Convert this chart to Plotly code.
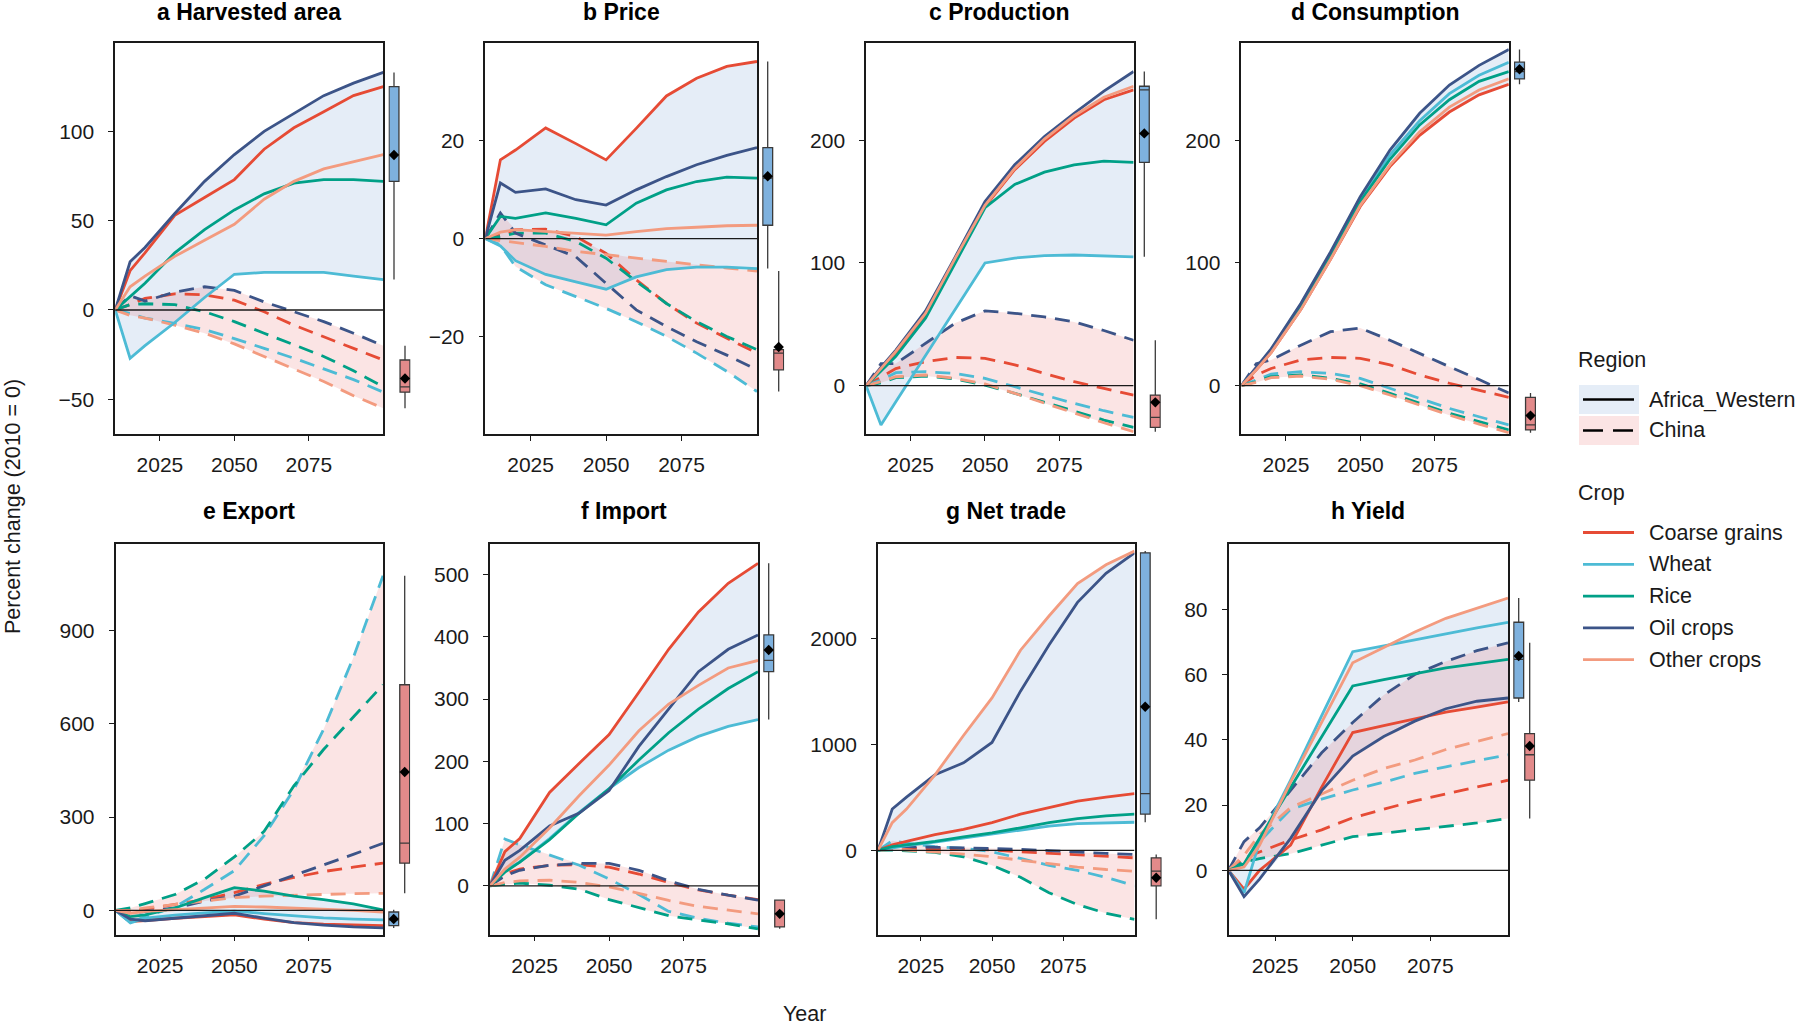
"""Percent change of crop indicators, Africa_Western vs China, 2010-2100."""
import numpy as np
import plotly.graph_objects as go

# ---------------------------------------------------------------- data
YEARS = [2010, 2015, 2020, 2030, 2040, 2050, 2060, 2070, 2080, 2090, 2100]
CROPS = ["Coarse grains", "Wheat", "Rice", "Oil crops", "Other crops"]
REGIONS = ["Africa_Western", "China"]
TITLES = [
    "a Harvested area", "b Price", "c Production", "d Consumption",
    "e Export", "f Import", "g Net trade", "h Yield",
]
X_TICKS = [2025, 2050, 2075]
Y_TICKS = [
    [-50, 0, 50, 100],
    [-20, 0, 20],
    [0, 100, 200],
    [0, 100, 200],
    [0, 300, 600, 900],
    [0, 100, 200, 300, 400, 500],
    [0, 1000, 2000],
    [0, 20, 40, 60, 80],
]

# rows follow CROPS: Coarse grains, Wheat, Rice, Oil crops, Other crops
AREA_AFR = [
    [0, 22, 32, 53, 63, 73, 90, 102, 111, 120, 125],
    [0, -27, -20, -7, 7, 20, 21, 21, 21, 19, 17],
    [0, 7.5, 15, 32, 45, 56, 65, 71, 73, 73, 72],
    [0, 27, 35, 54, 72, 87, 100, 110, 120, 127, 133],
    [0, 13, 19, 30, 39, 48, 62, 72, 79, 83, 87],
]
AREA_CHN = [
    [0, 3, 6.5, 9, 8.5, 5.5, -1, -8.5, -15, -21.5, -28],
    [0, -2, -4.5, -7.5, -11, -16, -21.5, -27, -33, -39, -46],
    [0, 3, 3.5, 3, -1, -6.5, -13, -19.5, -26, -34, -43],
    [0, 8, 5, 10, 13, 11, 4.5, -1, -6.5, -13, -20],
    [0, -3, -4.5, -8.5, -13, -19, -26, -33, -40, -48, -55],
]
PRICE_AFR = [
    [0, 16, 18, 22.5, 19.3, 16, 22.4, 29, 32.6, 35, 36],
    [0, -1.5, -4.5, -7.3, -8.8, -10.3, -7.8, -6.3, -5.8, -5.8, -6.1],
    [0, 4.5, 4.1, 5.2, 4.1, 2.8, 7.2, 9.9, 11.6, 12.5, 12.3],
    [0, 11.3, 9.4, 10.1, 7.9, 6.8, 9.9, 12.6, 15, 16.9, 18.5],
    [0, 1.3, 1.8, 1.4, 1.1, 0.7, 1.4, 2, 2.3, 2.6, 2.7],
]
PRICE_CHN = [
    [0, 0.7, 1.8, 1.9, 0.4, -3, -8.4, -13.2, -17.2, -20.3, -23.3],
    [0, -1.3, -5.7, -9.4, -11.8, -14.2, -16.9, -19.9, -23.3, -27, -31.1],
    [0, 0.4, 1.1, 1.1, -0.6, -4, -8.7, -13.2, -16.9, -19.9, -22.6],
    [0, 5.2, 1.1, -1.3, -3.7, -9.1, -14.5, -17.9, -21, -23.7, -26.7],
    [0, -0.4, -0.9, -1.6, -2.6, -3.3, -4, -4.7, -5.4, -6, -6.6],
]
PROD_AFR = [
    [0, 14, 27, 58, 103, 146, 176, 199, 218, 233, 241],
    [0, -32, -13, 25, 62, 100, 104, 106, 106.5, 106, 105],
    [0, 12, 24, 55, 100, 145, 164, 174, 180, 183, 182],
    [0, 15, 29, 61, 105, 150, 180, 203, 222, 240, 256],
    [0, 14, 28, 59, 104, 147, 177, 201, 220, 235, 244],
]
PROD_CHN = [
    [0, 7, 14, 19.6, 23, 22.3, 17, 10, 3.3, -2.2, -7.6],
    [0, 4.6, 10.6, 11.4, 10, 6, -0.8, -7.6, -14.4, -20.4, -25.8],
    [0, 2.4, 6.5, 7.9, 5.4, 0.5, -6.2, -13.6, -21.2, -28, -34],
    [0, 18, 18, 34.5, 51, 61, 59, 56, 52, 45, 37],
    [0, 3.3, 7.3, 8.7, 6, 1.4, -6.2, -14.4, -22.5, -30.2, -37.5],
]
CONS_AFR = [
    [0, 13, 27, 62, 103, 146, 178.5, 204, 223, 237, 245.6],
    [0, 14, 29, 66, 108, 153, 188, 216, 238, 253, 263.6],
    [0, 14, 29, 65, 106, 150, 184.5, 212.5, 233, 248, 256],
    [0, 15, 30, 67, 109, 154, 192, 222, 245, 261, 274],
    [0, 13, 27, 62, 103, 147, 180, 207, 227, 241, 250],
]
CONS_CHN = [
    [0, 8.7, 14, 21, 23, 22.3, 17, 8.7, 2, -3.5, -9.5],
    [0, 4.6, 9.5, 11.4, 10, 6, -2.2, -10.3, -18.5, -25.3, -32],
    [0, 3.3, 7.3, 8.7, 6, 1.4, -6.2, -14.4, -22.5, -29.3, -36],
    [0, 18, 21, 33, 44, 47, 37, 26, 15.5, 5, -6],
    [0, 2.7, 6.5, 7.9, 5.2, 0, -7.6, -15.8, -24, -31.3, -38.3],
]
EXPORT_AFR = [
    [0, -36, -33, -25, -20, -14, -28, -39, -44, -47, -49],
    [0, -40, -25, -15, -8, -2, -10, -18, -24, -28, -30],
    [0, -20, -14, 8, 41, 73, 62, 46, 35, 21, 2],
    [0, -28, -33, -25, -18, -9, -25, -39, -47, -53, -56],
    [0, -9, -3, 2, 8, 13, 11, 8, 4, 0, -5],
]
EXPORT_CHN = [
    [0, -3, 4, 19, 35, 57, 84, 106, 125, 139, 152],
    [0, -39, -20, 11, 68, 128, 240, 388, 582, 812, 1075],
    [0, 8, 22, 51, 101, 172, 254, 400, 517, 621, 725],
    [0, -9, -3, 8, 30, 46, 79, 112, 145, 180, 216],
    [0, 0, 8, 19, 30, 41, 46, 49, 53, 54, 55],
]
IMPORT_AFR = [
    [0, 55, 76, 150, 197, 243, 311, 380, 440, 486, 518],
    [0, 25, 38, 76, 118, 156, 190, 218, 240, 256, 267],
    [0, 22, 38, 74, 117, 156, 202, 246, 284, 317, 344],
    [0, 41, 57, 96, 117, 153, 224, 284, 344, 380, 403],
    [0, 27, 46, 93, 145, 194, 249, 292, 322, 350, 362],
]
IMPORT_CHN = [
    [0, 19, 27, 33, 34, 30, 19, 5.5, -6.6, -15, -22],
    [0, 75, 66, 50, 33, 11, -14, -41, -52, -60, -66],
    [0, 2.7, 4.4, 1, -5.5, -22, -35.5, -48, -55, -61, -69],
    [0, 16, 25, 33, 36, 36, 25, 8, -5.5, -15, -23],
    [0, 5.5, 8, 9, 5.5, -1.6, -12, -23.5, -33, -39, -45],
]
NETTRADE_AFR = [
    [0, 52, 84, 148, 197, 261, 342, 406, 465, 503, 535],
    [0, 26, 45, 77, 116, 155, 197, 229, 252, 261, 265],
    [0, 35, 52, 84, 126, 165, 213, 261, 300, 326, 342],
    [0, 390, 503, 713, 826, 1019, 1503, 1939, 2342, 2616, 2810],
    [0, 261, 390, 713, 1084, 1439, 1890, 2213, 2519, 2697, 2826],
]
NETTRADE_CHN = [
    [0, 19, 19, 13, 10, 3, -13, -29, -45, -55, -71],
    [0, 90, 68, 35, 19, -13, -77, -142, -190, -255, -335],
    [0, 3, -6, -19, -61, -142, -255, -400, -513, -594, -652],
    [0, 35, 35, 29, 26, 19, 10, -3, -19, -29, -39],
    [0, 10, 3, -13, -35, -61, -94, -126, -158, -181, -197],
]
YIELD_AFR = [
    [0, -5.8, 0, 7.7, 25.5, 42.2, 44.3, 46.4, 48.5, 50, 51.6],
    [0, -6.9, 8.8, 27.6, 47.4, 67, 68.8, 70.7, 72.5, 74.3, 76],
    [0, 2, 9.8, 25.5, 41, 56.5, 58.4, 60.3, 62, 63.3, 64.6],
    [0, -8.1, -2.7, 9.8, 24.4, 35, 41, 45.7, 49.5, 51.8, 52.8],
    [0, 1, 7.7, 27, 45.3, 63.6, 68.3, 73, 77.2, 80.3, 83.4],
]
YIELD_CHN = [
    [0, 3.6, 5.6, 9.3, 12.4, 16.1, 18.7, 21.3, 23.4, 25.5, 27.6],
    [0, 2.5, 8.8, 18.7, 21.8, 24.6, 27, 29.7, 31.7, 33.6, 35.4],
    [0, 2.5, 3.6, 5.1, 7.7, 10.3, 11.4, 12.4, 13.5, 14.5, 15.9],
    [0, 8.8, 13, 24.4, 36, 45.3, 53.7, 60, 64, 67.3, 69.7],
    [0, 4.6, 10.9, 19.2, 23.4, 27.6, 31.2, 33.8, 37, 39.4, 41.9],
]

PANEL_DATA = [
    (AREA_AFR, AREA_CHN),
    (PRICE_AFR, PRICE_CHN),
    (PROD_AFR, PROD_CHN),
    (CONS_AFR, CONS_CHN),
    (EXPORT_AFR, EXPORT_CHN),
    (IMPORT_AFR, IMPORT_CHN),
    (NETTRADE_AFR, NETTRADE_CHN),
    (YIELD_AFR, YIELD_CHN),
]

# ---------------------------------------------------------------- style
W, H = 1800, 1025
FONT = "Liberation Sans, Arial, sans-serif"
INK = "#1a1a1a"
CROP_COLORS = ["#E64B35", "#4DBBD5", "#00A087", "#3C5488", "#F39B7F"]
REGION_DASH = ["solid", "15px,9px"]
BAND_FILL = ["rgba(70,130,200,0.14)", "rgba(230,80,80,0.155)"]
BOX_FILL = ["#7EB1DE", "#E28A8A"]

# plot areas in pixels: (left, right), and row (top, bottom)
PANEL_X = [
    (115.2, 383.3), (485.3, 757.0), (866.1, 1133.6), (1241.4, 1508.8),
    (115.5, 383.0), (490.0, 758.0), (878.0, 1134.5), (1228.5, 1508.0),
]
ROW_Y = [(43.3, 434.3), (543.6, 934.6)]
TITLE_Y = [11.5, 511]
Y_RANGES = [
    (-69.6, 149.3), (-39.8, 39.7), (-39.6, 279), (-39.6, 279),
    (-77.6, 1178.5), (-78.3, 549.7), (-796, 2897), (-19.7, 100.1),
]


def fx(px):
    return px / W


def fy(px):
    return 1 - px / H


fig = go.Figure()
layout = {}
shapes = []
annotations = []
years = np.array(YEARS)

for i, (title, data) in enumerate(zip(TITLES, PANEL_DATA)):
    xa, ya, xb = f"x{i + 1}", f"y{i + 1}", f"x{i + 9}"
    left, right = PANEL_X[i]
    top, bottom = ROW_Y[i // 4]

    # min/max ribbons for each region
    for r, series in enumerate(data):
        arr = np.array(series, dtype=float)
        lo, hi = arr.min(axis=0), arr.max(axis=0)
        fig.add_trace(go.Scatter(
            x=np.concatenate([years, years[::-1]]),
            y=np.concatenate([hi, lo[::-1]]),
            fill="toself", fillcolor=BAND_FILL[r], line=dict(width=0),
            mode="lines", hoverinfo="skip", showlegend=False,
            xaxis=xa, yaxis=ya,
        ))

    for r in (1, 0):
        for c, crop in enumerate(CROPS):
            fig.add_trace(go.Scatter(
                x=YEARS, y=data[r][c], mode="lines",
                line=dict(color=CROP_COLORS[c], width=2.8, dash=REGION_DASH[r]),
                name=f"{crop} ({REGIONS[r]})", showlegend=False,
                xaxis=xa, yaxis=ya,
            ))

    # boxplots of the 2100 values
    for r, series in enumerate(data):
        ends = [row[-1] for row in series]
        fig.add_trace(go.Box(
            y=ends, x0=r, width=0.9, boxpoints=False, whiskerwidth=0,
            quartilemethod="inclusive", fillcolor=BOX_FILL[r],
            line=dict(color="#3a3a3a", width=1.3), showlegend=False,
            name=REGIONS[r], xaxis=xb, yaxis=ya,
        ))
        fig.add_trace(go.Scatter(
            x=[r], y=[np.mean(ends)], mode="markers",
            marker=dict(symbol="diamond", size=8, color="black"),
            hoverinfo="skip", showlegend=False, xaxis=xb, yaxis=ya,
        ))

    axis_common = dict(
        ticks="outside", ticklen=5, tickwidth=1.3, tickcolor=INK,
        showline=True, mirror=True, linecolor=INK, linewidth=1.6,
        showgrid=False, zeroline=False,
        tickfont=dict(family=FONT, size=21, color=INK),
    )
    layout[f"xaxis{i + 1}"] = dict(
        domain=[fx(left), fx(right)], range=[2010, 2100], anchor=ya,
        tickvals=X_TICKS, ticklabelstandoff=6, **axis_common,
    )
    layout[f"yaxis{i + 1}"] = dict(
        domain=[fy(bottom), fy(top)], range=list(Y_RANGES[i]), anchor=xa,
        tickvals=Y_TICKS[i], ticklabelstandoff=10, **axis_common,
    )
    layout[f"xaxis{i + 9}"] = dict(
        domain=[fx(right + 5.2), fx(right + 27.2)], range=[-0.5, 1.5],
        anchor=ya, visible=False,
    )

    shapes.append(dict(
        type="line", xref=xa, yref=ya, x0=2010, x1=2100, y0=0, y1=0,
        line=dict(color=INK, width=1.3), layer="above",
    ))
    annotations.append(dict(
        text=f"<b>{title}</b>", x=fx((left + right) / 2), y=fy(TITLE_Y[i // 4]),
        xref="paper", yref="paper", xanchor="center", yanchor="middle",
        showarrow=False, font=dict(family=FONT, size=23, color="black"),
    ))

# shared axis labels
annotations.append(dict(
    text="Percent change (2010 = 0)", x=fx(13), y=fy(507), textangle=-90,
    xref="paper", yref="paper", xanchor="center", yanchor="middle",
    showarrow=False, font=dict(family=FONT, size=21.5, color=INK),
))
annotations.append(dict(
    text="Year", x=fx(804), y=fy(1014),
    xref="paper", yref="paper", xanchor="center", yanchor="middle",
    showarrow=False, font=dict(family=FONT, size=21.5, color=INK),
))


# legend drawn by hand
def legend_text(text, x, y):
    annotations.append(dict(
        text=text, x=fx(x), y=fy(y), xref="paper", yref="paper",
        xanchor="left", yanchor="middle", showarrow=False,
        font=dict(family=FONT, size=21.5, color=INK),
    ))


legend_text("Region", 1576, 360)
for r, region in enumerate(REGIONS):
    y = 399.5 + 31 * r
    shapes.append(dict(
        type="rect", xref="paper", yref="paper",
        x0=fx(1579), x1=fx(1639), y0=fy(y - 14.5), y1=fy(y + 14.5),
        fillcolor=BAND_FILL[r], line=dict(width=0),
    ))
    shapes.append(dict(
        type="line", xref="paper", yref="paper",
        x0=fx(1583), x1=fx(1634), y0=fy(y), y1=fy(y),
        line=dict(color="black", width=2.6,
                  dash="solid" if r == 0 else "20px,10px"),
    ))
    legend_text(region, 1647, y)

legend_text("Crop", 1576, 493)
for c, crop in enumerate(CROPS):
    y = 532.5 + 31.8 * c
    shapes.append(dict(
        type="line", xref="paper", yref="paper",
        x0=fx(1583), x1=fx(1634), y0=fy(y), y1=fy(y),
        line=dict(color=CROP_COLORS[c], width=2.8),
    ))
    legend_text(crop, 1647, y)

fig.update_layout(
    width=W, height=H, autosize=False,
    margin=dict(l=0, r=0, t=0, b=0),
    paper_bgcolor="white", plot_bgcolor="rgba(0,0,0,0)",
    template="none", boxmode="overlay", showlegend=False,
    shapes=shapes, annotations=annotations,
    **layout,
)

# the page body has a default 8px margin; drop it so the figure sits at 0,0
fig.write_html(
    "out.html",
    config={"displayModeBar": False},
    post_script="document.body.style.margin='0';document.body.style.overflow='hidden';",
)
